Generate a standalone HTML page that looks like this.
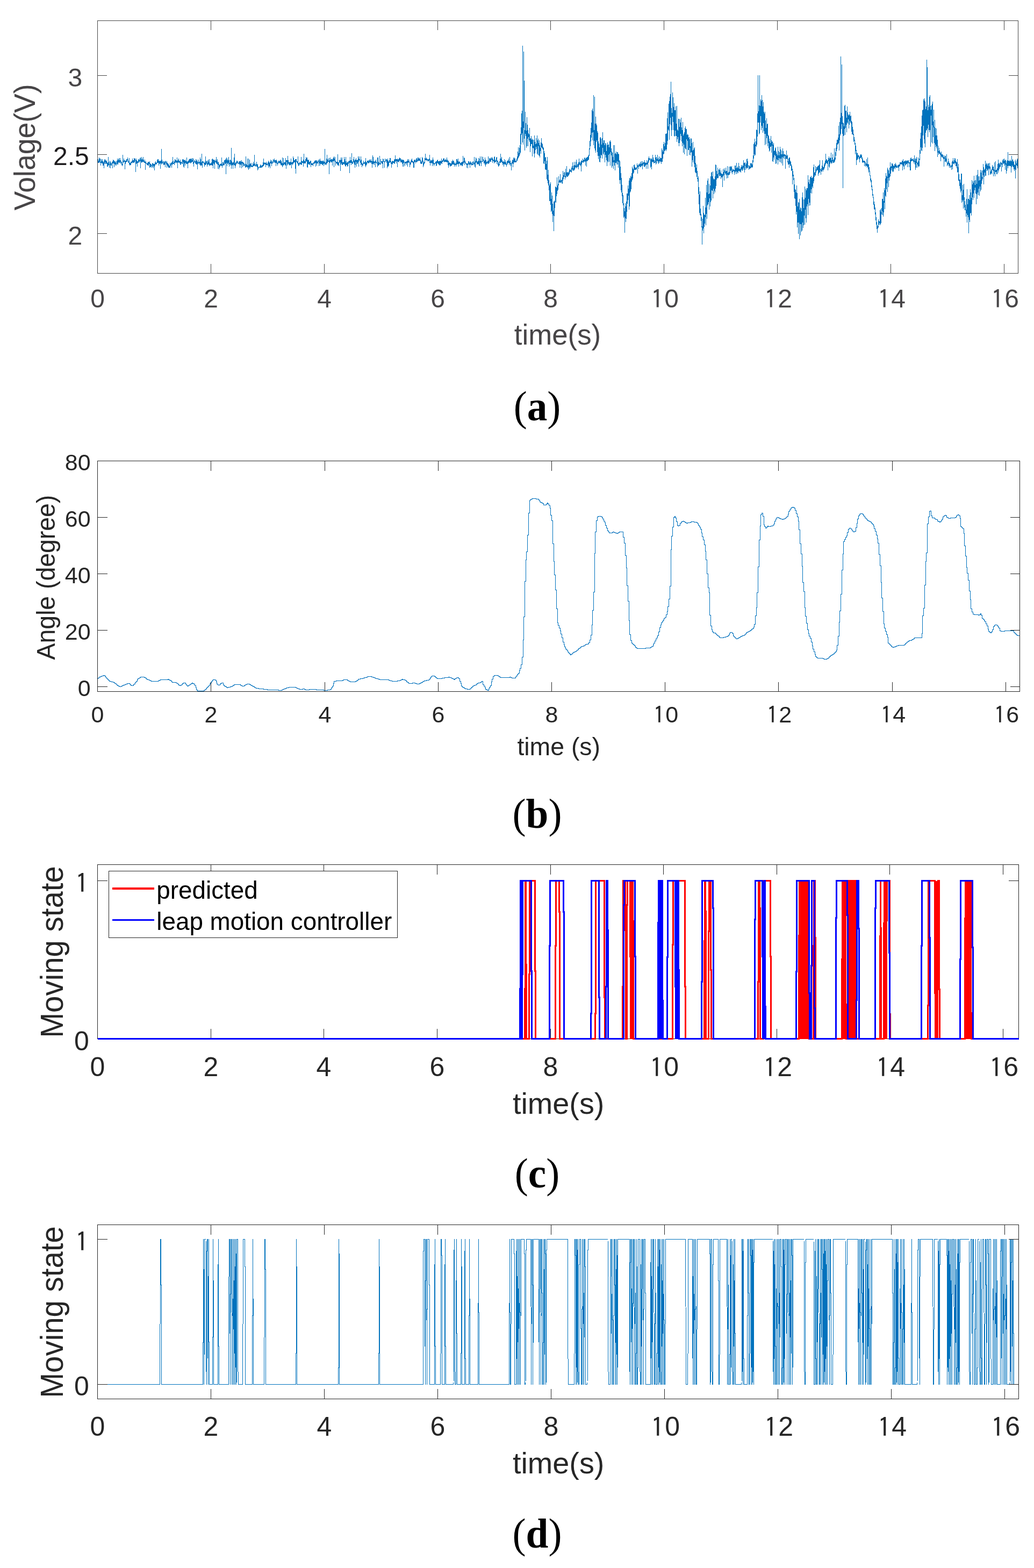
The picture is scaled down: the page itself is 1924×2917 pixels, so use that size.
<!DOCTYPE html>
<html><head><meta charset="utf-8"><title>Figure</title>
<style>html,body{margin:0;padding:0;background:#fff;} svg{display:block;}</style></head>
<body><svg width="1924" height="2917" viewBox="0 0 1924 2917">
<rect width="1924" height="2917" fill="#fff"/>
<path d="M182.5 303V296V301H183.5V303V299V302H184.5V301V293V300H185.5V299V295V299H186.5V302V295V302H187.5V301V308V302H188.5V302V296V300H189.5V299V304V301H190.5V304V296V300H191.5V305V308V307H192.5V308V302V306H193.5V300V313V304H194.5V299V297V299H195.5V302V296V301H196.5V298V305V304H197.5V304V299V303H198.5V302V299V302H199.5V302V310V303H200.5V304V310V306H201.5V307V292V305H202.5V308V301V305H203.5V305V312V305H204.5V306V299V304H205.5V301V313V305H206.5V304V308V305H207.5V303V308V303H208.5V303V302V302H209.5V300V313V301H210.5V304V297V300H211.5V298V304V300H212.5V299V311V300H213.5V304V305V304H214.5V302V308V303H215.5V306V300V303H216.5V303V308V303H217.5V303V299V303H218.5V306V295V301H219.5V298V306V301H220.5V302V296V301H221.5V303V294V299H222.5V298V303V300H223.5V300V294V298H224.5V299V304V302H225.5V304V300V302H226.5V305V307V305H227.5V305V309V306H228.5V302V288V302H229.5V301V299V300H230.5V301V295V300H231.5V301V298V299H232.5V301V315V303H233.5V305V299V301H234.5V301V299V300H235.5V298V296V297H236.5V296V301V297H237.5V297V293V297H238.5V298V302V300H239.5V302V303V302H240.5V305V294V305H241.5V303V308V305H242.5V307V303V306H243.5V302V301V302H244.5V303V301V302H245.5V304V299V301H246.5V299V295V299H247.5V298V302V302H248.5V302V298V299H249.5V302V294V298H250.5V295V302V298H251.5V299V295V298H252.5V301V320V304H253.5V304V295V303H254.5V300V298V300H255.5V300V310V300H256.5V300V303V301H257.5V303V296V300H258.5V298V297V297H259.5V297V302V298H260.5V297V294V296H261.5V293V313V297H262.5V298V301V300H263.5V303V292V300H264.5V302V295V299H265.5V300V297V300H266.5V298V292V297H267.5V300V302V300H268.5V301V303V302H269.5V302V297V301H270.5V302V316V303H271.5V303V300V303H272.5V303V305V304H273.5V304V307V305H274.5V307V303V304H275.5V301V308V304H276.5V301V308V304H277.5V304V302V303H278.5V300V312V304H279.5V309V310V310H280.5V308V305V306H281.5V307V308V307H282.5V309V312V310H283.5V308V304V306H284.5V308V303V306H285.5V305V313V305H286.5V308V309V309H287.5V305V317V307H288.5V305V302V305H289.5V305V300V304H290.5V304V303V304H291.5V306V302V302H292.5V303V298V301H293.5V303V296V298H294.5V296V303V299H295.5V302V308V304H296.5V304V299V303H297.5V301V300V300H298.5V299V314V302H299.5V304V299V302H300.5V306V277V301H301.5V304V297V300H302.5V300V304V303H303.5V303V304V303H304.5V300V307V304H305.5V307V300V305H306.5V305V302V302H307.5V300V311V300H308.5V299V302V302H309.5V302V306V304H310.5V300V312V303H311.5V303V308V304H312.5V304V310V305H313.5V307V312V307H314.5V308V312V309H315.5V309V312V310H316.5V312V303V308H317.5V308V305V305H318.5V305V303V305H319.5V302V312V305H320.5V307V300V302H321.5V305V292V304H322.5V305V303V304H323.5V304V299V302H324.5V301V307V302H325.5V301V296V301H326.5V302V297V299H327.5V298V304V301H328.5V302V299V300H329.5V302V293V302H330.5V299V313V300H331.5V302V297V299H332.5V303V295V299H333.5V300V302V301H334.5V300V304V302H335.5V307V297V303H336.5V301V306V302H337.5V302V301V302H338.5V302V305V302H339.5V305V296V301H340.5V299V297V298H341.5V296V310V300H342.5V298V312V300H343.5V298V304V302H344.5V297V308V301H345.5V303V299V301H346.5V300V304V304H347.5V303V293V303H348.5V304V301V304H349.5V300V313V303H350.5V302V299V300H351.5V303V297V300H352.5V302V296V300H353.5V303V295V298H354.5V296V304V301H355.5V302V295V298H356.5V295V303V298H357.5V299V301V300H358.5V300V294V299H359.5V295V305V304H360.5V301V310V301H361.5V303V298V299H362.5V299V301V300H363.5V301V304V302H364.5V305V296V301H365.5V299V306V301H366.5V297V306V302H367.5V300V315V303H368.5V304V302V302H369.5V305V297V301H370.5V301V303V302H371.5V301V306V303H372.5V307V293V303H373.5V309V296V305H374.5V307V302V304H375.5V308V286V303H376.5V300V312V300H377.5V300V303V302H378.5V302V303V302H379.5V300V305V304H380.5V303V310V305H381.5V306V302V306H382.5V307V291V305H383.5V304V299V303H384.5V304V300V303H385.5V303V310V304H386.5V307V299V304H387.5V306V297V302H388.5V301V305V305H389.5V309V296V306H390.5V306V304V306H391.5V308V304V306H392.5V307V304V306H393.5V304V302V302H394.5V308V296V305H395.5V308V295V304H396.5V297V313V301H397.5V304V297V301H398.5V297V306V301H399.5V298V314V301H400.5V302V300V301H401.5V302V297V300H402.5V305V292V300H403.5V299V304V302H404.5V306V296V302H405.5V305V314V306H406.5V306V301V305H407.5V307V315V307H408.5V308V312V309H409.5V310V305V307H410.5V308V305V307H411.5V307V304V306H412.5V309V293V306H413.5V307V312V307H414.5V308V302V305H415.5V307V301V305H416.5V304V308V306H417.5V305V298V303H418.5V299V298V299H419.5V297V305V301H420.5V295V324V302H421.5V302V293V301H422.5V298V309V300H423.5V305V295V300H424.5V298V303V302H425.5V306V292V301H426.5V298V310V303H427.5V303V305V304H428.5V308V297V305H429.5V304V298V303H430.5V314V275V307H431.5V305V300V304H432.5V302V307V303H433.5V304V314V304H434.5V306V301V305H435.5V308V293V305H436.5V307V286V306H437.5V304V313V305H438.5V302V309V305H439.5V304V302V303H440.5V302V299V302H441.5V303V299V301H442.5V302V305V304H443.5V304V305V304H444.5V305V301V304H445.5V305V300V305H446.5V300V312V305H447.5V304V299V303H448.5V301V307V303H449.5V298V313V301H450.5V302V304V302H451.5V301V311V305H452.5V305V302V305H453.5V303V309V307H454.5V306V309V306H455.5V307V304V306H456.5V306V312V309H457.5V310V291V310H458.5V308V305V307H459.5V308V310V309H460.5V313V295V309H461.5V308V311V310H462.5V316V295V310H463.5V314V306V309H464.5V311V297V309H465.5V313V304V309H466.5V309V305V308H467.5V310V303V308H468.5V309V311V310H469.5V309V308V308H470.5V310V304V308H471.5V307V301V305H472.5V305V309V305H473.5V308V288V306H474.5V304V309V308H475.5V307V310V307H476.5V307V305V306H477.5V310V301V306H478.5V306V311V307H479.5V305V317V310H480.5V310V315V311H481.5V311V312V311H482.5V311V312V311H483.5V312V309V311H484.5V310V306V309H485.5V307V312V311H486.5V310V309V310H487.5V310V307V307H488.5V307V311V308H489.5V306V302V303H490.5V309V295V306H491.5V304V303V304H492.5V304V302V303H493.5V303V305V305H494.5V303V311V304H495.5V307V301V305H496.5V306V304V306H497.5V305V308V305H498.5V303V302V303H499.5V299V312V303H500.5V301V309V304H501.5V303V310V305H502.5V301V313V303H503.5V303V297V301H504.5V300V304V302H505.5V298V309V303H506.5V302V305V302H507.5V303V300V301H508.5V303V296V299H509.5V300V298V299H510.5V302V295V299H511.5V298V302V302H512.5V301V298V300H513.5V298V309V300H514.5V302V297V302H515.5V304V300V304H516.5V303V308V304H517.5V302V301V301H518.5V303V299V302H519.5V302V299V300H520.5V300V304V303H521.5V304V297V300H522.5V298V307V302H523.5V300V308V303H524.5V303V307V304H525.5V311V293V306H526.5V304V309V306H527.5V307V294V305H528.5V307V302V303H529.5V302V305V303H530.5V302V307V303H531.5V308V294V298H532.5V298V314V300H533.5V301V298V300H534.5V298V308V300H535.5V306V290V302H536.5V303V298V303H537.5V302V306V304H538.5V307V301V303H539.5V302V308V304H540.5V307V301V305H541.5V305V295V304H542.5V302V313V304H543.5V304V302V302H544.5V301V307V303H545.5V305V291V300H546.5V303V294V298H547.5V300V302V301H548.5V302V298V299H549.5V296V314V297H550.5V296V323V297H551.5V296V301V300H552.5V300V302V300H553.5V300V304V301H554.5V306V291V303H555.5V304V309V306H556.5V308V304V305H557.5V304V302V303H558.5V305V301V304H559.5V303V306V303H560.5V307V292V305H561.5V304V299V302H562.5V303V300V301H563.5V302V300V302H564.5V297V310V300H565.5V304V286V301H566.5V303V299V303H567.5V303V300V303H568.5V304V296V300H569.5V298V292V297H570.5V300V294V298H571.5V293V311V298H572.5V297V312V300H573.5V298V305V302H574.5V306V297V304H575.5V306V301V302H576.5V301V307V303H577.5V304V299V303H578.5V299V311V304H579.5V304V306V306H580.5V307V303V304H581.5V305V306V306H582.5V304V309V304H583.5V305V302V304H584.5V304V301V303H585.5V303V299V300H586.5V299V303V301H587.5V298V310V300H588.5V298V304V299H589.5V301V308V303H590.5V303V301V303H591.5V302V299V300H592.5V301V297V300H593.5V302V309V303H594.5V304V297V301H595.5V295V308V304H596.5V303V299V302H597.5V304V299V304H598.5V303V300V302H599.5V299V307V302H600.5V300V307V304H601.5V303V298V303H602.5V300V309V301H603.5V302V304V303H604.5V306V277V303H605.5V303V307V304H606.5V303V301V303H607.5V307V295V302H608.5V304V288V300H609.5V303V297V300H610.5V300V295V299H611.5V299V300V300H612.5V294V324V298H613.5V298V303V298H614.5V302V293V297H615.5V299V300V299H616.5V302V296V300H617.5V302V296V298H618.5V297V308V299H619.5V300V295V299H620.5V300V293V298H621.5V291V311V296H622.5V295V299V297H623.5V301V292V299H624.5V299V308V302H625.5V301V304V303H626.5V303V301V303H627.5V305V301V305H628.5V308V287V306H629.5V306V302V305H630.5V302V309V302H631.5V303V298V301H632.5V301V297V300H633.5V298V318V302H634.5V306V293V302H635.5V304V297V300H636.5V307V293V304H637.5V302V307V304H638.5V306V301V304H639.5V305V302V304H640.5V305V292V304H641.5V307V296V305H642.5V309V300V303H643.5V310V292V306H644.5V307V303V305H645.5V307V300V305H646.5V302V310V302H647.5V303V309V304H648.5V304V300V302H649.5V303V299V301H650.5V299V322V302H651.5V303V292V302H652.5V303V298V300H653.5V298V307V302H654.5V301V285V301H655.5V301V305V301H656.5V300V305V300H657.5V300V296V300H658.5V303V292V301H659.5V299V306V302H660.5V297V312V301H661.5V297V307V300H662.5V300V294V299H663.5V298V310V299H664.5V297V305V301H665.5V304V298V300H666.5V300V291V299H667.5V295V310V296H668.5V298V291V296H669.5V297V300V299H670.5V299V303V302H671.5V307V291V305H672.5V306V297V303H673.5V303V311V306H674.5V307V305V307H675.5V306V303V304H676.5V304V299V302H677.5V302V304V302H678.5V304V305V304H679.5V308V300V303H680.5V311V294V307H681.5V308V302V305H682.5V303V301V301H683.5V300V299V299H684.5V300V304V300H685.5V298V303V300H686.5V300V304V301H687.5V302V297V301H688.5V302V297V301H689.5V303V299V301H690.5V301V296V300H691.5V299V305V301H692.5V300V312V301H693.5V305V289V304H694.5V306V292V303H695.5V301V300V300H696.5V301V307V302H697.5V303V301V302H698.5V299V311V302H699.5V303V297V301H700.5V301V303V303H701.5V303V304V303H702.5V311V293V307H703.5V305V293V305H704.5V308V301V306H705.5V305V303V303H706.5V304V290V304H707.5V304V306V304H708.5V306V296V301H709.5V301V300V300H710.5V302V304V302H711.5V300V305V301H712.5V295V313V299H713.5V300V296V300H714.5V300V301V300H715.5V300V312V301H716.5V299V295V299H717.5V299V300V299H718.5V300V296V299H719.5V296V303V301H720.5V298V313V299H721.5V295V310V299H722.5V301V310V301H723.5V301V308V301H724.5V303V298V301H725.5V301V294V300H726.5V302V294V300H727.5V300V305V302H728.5V302V312V302H729.5V300V305V304H730.5V306V299V302H731.5V303V300V302H732.5V301V300V300H733.5V297V305V301H734.5V304V296V300H735.5V301V289V297H736.5V296V300V299H737.5V296V304V299H738.5V300V296V299H739.5V295V311V299H740.5V301V297V300H741.5V300V296V296H742.5V295V302V298H743.5V297V293V295H744.5V294V298V298H745.5V295V302V299H746.5V298V302V299H747.5V302V296V301H748.5V305V297V302H749.5V298V310V301H750.5V303V297V301H751.5V298V310V301H752.5V301V302V301H753.5V301V308V303H754.5V303V301V301H755.5V302V304V302H756.5V300V307V302H757.5V303V299V300H758.5V296V310V300H759.5V299V303V300H760.5V302V296V299H761.5V300V303V302H762.5V305V311V306H763.5V304V302V304H764.5V304V299V301H765.5V300V297V300H766.5V301V295V301H767.5V302V299V301H768.5V300V304V303H769.5V301V312V301H770.5V298V312V300H771.5V302V297V300H772.5V301V297V299H773.5V299V304V300H774.5V299V295V297H775.5V294V302V299H776.5V301V297V298H777.5V299V293V296H778.5V299V293V297H779.5V295V300V297H780.5V299V295V298H781.5V298V293V298H782.5V297V304V300H783.5V299V305V302H784.5V301V305V302H785.5V304V292V300H786.5V300V294V299H787.5V300V311V302H788.5V303V308V304H789.5V305V301V302H790.5V302V294V297H791.5V297V286V297H792.5V298V295V297H793.5V295V293V295H794.5V295V300V296H795.5V297V298V297H796.5V297V300V298H797.5V300V296V296H798.5V295V299V298H799.5V303V288V301H800.5V300V308V302H801.5V301V297V300H802.5V298V304V300H803.5V299V302V302H804.5V297V309V301H805.5V304V293V300H806.5V297V306V304H807.5V303V309V305H808.5V305V304V304H809.5V305V303V303H810.5V304V301V303H811.5V300V309V301H812.5V300V308V301H813.5V304V298V302H814.5V303V297V300H815.5V301V306V304H816.5V304V300V302H817.5V300V307V303H818.5V299V308V303H819.5V307V299V303H820.5V304V300V302H821.5V304V295V299H822.5V299V305V300H823.5V301V298V300H824.5V300V296V296H825.5V294V299V296H826.5V295V302V299H827.5V298V301V299H828.5V301V297V299H829.5V301V296V298H830.5V298V302V299H831.5V301V293V298H832.5V297V302V299H833.5V299V307V302H834.5V299V312V303H835.5V304V308V305H836.5V306V302V305H837.5V303V310V304H838.5V304V309V305H839.5V304V309V304H840.5V308V300V305H841.5V305V300V302H842.5V306V297V304H843.5V306V299V304H844.5V306V300V305H845.5V304V310V306H846.5V306V302V305H847.5V306V307V306H848.5V303V310V306H849.5V307V296V303H850.5V305V296V303H851.5V306V299V303H852.5V304V295V304H853.5V301V310V303H854.5V305V300V302H855.5V303V301V303H856.5V303V308V303H857.5V303V307V304H858.5V302V307V305H859.5V309V301V306H860.5V309V301V305H861.5V305V290V301H862.5V300V304V301H863.5V300V293V298H864.5V294V307V302H865.5V302V299V302H866.5V303V305V304H867.5V304V306V304H868.5V304V312V305H869.5V304V307V304H870.5V304V313V304H871.5V304V300V303H872.5V300V307V303H873.5V303V306V305H874.5V301V312V303H875.5V306V300V305H876.5V306V303V305H877.5V308V302V305H878.5V305V307V305H879.5V307V301V304H880.5V307V300V303H881.5V303V304V303H882.5V306V292V305H883.5V302V310V306H884.5V312V299V302H885.5V302V293V300H886.5V302V295V300H887.5V300V306V303H888.5V305V301V303H889.5V306V299V301H890.5V305V294V300H891.5V301V308V301H892.5V295V309V299H893.5V301V291V301H894.5V299V304V300H895.5V300V309V300H896.5V301V291V300H897.5V300V301V300H898.5V297V292V297H899.5V296V299V298H900.5V299V304V299H901.5V299V304V302H902.5V307V293V305H903.5V310V297V302H904.5V305V298V302H905.5V301V306V302H906.5V302V301V301H907.5V299V305V302H908.5V304V291V301H909.5V299V305V302H910.5V301V294V299H911.5V299V295V297H912.5V295V301V297H913.5V301V293V296H914.5V297V295V296H915.5V298V292V296H916.5V294V303V298H917.5V300V296V299H918.5V300V298V298H919.5V304V292V301H920.5V302V291V301H921.5V300V297V300H922.5V301V299V299H923.5V300V293V298H924.5V292V305V300H925.5V300V299V299H926.5V300V307V302H927.5V303V310V307H928.5V309V305V306H929.5V306V300V302H930.5V300V295V299H931.5V303V286V298H932.5V301V295V297H933.5V302V292V298H934.5V301V303V302H935.5V301V307V304H936.5V303V300V302H937.5V301V310V302H938.5V306V296V301H939.5V301V305V301H940.5V298V307V302H941.5V304V306V305H942.5V305V310V306H943.5V307V300V304H944.5V303V299V301H945.5V303V298V301H946.5V303V295V302H947.5V300V307V302H948.5V304V292V303H949.5V306V299V303H950.5V304V309V305H951.5V304V317V304H952.5V305V301V303H953.5V302V297V301H954.5V298V311V303H955.5V305V293V301H956.5V299V295V298H957.5V302V293V300H958.5V302V295V299H959.5V301V302V301H960.5V300V299V299H961.5V299V295V298H962.5V296V291V295H963.5V294V282V293H964.5V293V274V290H965.5V292V285V288H966.5V290V275V284H967.5V287V270V275H968.5V284V249V268H969.5V265V237V250H970.5V235V211V233H971.5V248V206V228H972.5V265V85V230H973.5V226V269V232H974.5V238V96V230H975.5V258V150V246H976.5V242V280V244H977.5V249V208V237H978.5V229V253V244H979.5V243V275V246H980.5V272V218V243H981.5V232V258V251H982.5V242V272V251H983.5V248V255V250H984.5V252V261V256H985.5V264V238V259H986.5V258V283V267H987.5V272V257V267H988.5V268V253V266H989.5V268V260V264H990.5V258V291V274H991.5V272V260V271H992.5V275V276V275H993.5V286V260V269H994.5V252V293V264H995.5V268V285V269H996.5V268V279V272H997.5V270V257V269H998.5V267V277V271H999.5V286V252V275H1000.5V288V261V271H1001.5V269V258V269H1002.5V266V289V276H1003.5V290V261V274H1004.5V270V293V280H1005.5V281V275V280H1006.5V286V265V273H1007.5V274V257V268H1008.5V266V275V271H1009.5V268V277V273H1010.5V273V279V278H1011.5V275V304V281H1012.5V282V305V285H1013.5V289V300V293H1014.5V296V315V296H1015.5V292V316V305H1016.5V313V316V314H1017.5V299V333V315H1018.5V336V292V325H1019.5V325V341V335H1020.5V345V316V340H1021.5V335V354V347H1022.5V345V374V364H1023.5V374V342V361H1024.5V381V339V370H1025.5V374V394V376H1026.5V392V358V378H1027.5V364V398V385H1028.5V379V413V392H1029.5V393V401V397H1030.5V375V430V392H1031.5V402V373V386H1032.5V385V375V375H1033.5V375V347V363H1034.5V377V348V356H1035.5V349V365V353H1036.5V361V330V350H1037.5V355V345V347H1038.5V342V353V344H1039.5V343V328V339H1040.5V338V336V338H1041.5V336V334V336H1042.5V340V324V336H1043.5V337V340V337H1044.5V338V334V335H1045.5V338V341V338H1046.5V342V330V335H1047.5V331V318V328H1048.5V326V333V327H1049.5V329V321V327H1050.5V329V320V328H1051.5V329V334V329H1052.5V327V314V326H1053.5V330V321V325H1054.5V327V309V324H1055.5V320V329V324H1056.5V321V329V326H1057.5V326V321V321H1058.5V319V326V321H1059.5V324V314V319H1060.5V320V316V316H1061.5V315V318V318H1062.5V317V320V318H1063.5V321V312V316H1064.5V317V309V314H1065.5V315V302V313H1066.5V313V318V313H1067.5V317V308V313H1068.5V317V301V313H1069.5V315V307V310H1070.5V311V308V308H1071.5V313V301V306H1072.5V310V297V310H1073.5V308V313V309H1074.5V310V305V308H1075.5V311V305V306H1076.5V302V315V307H1077.5V306V295V305H1078.5V305V301V305H1079.5V304V307V305H1080.5V309V301V306H1081.5V299V319V302H1082.5V306V298V301H1083.5V301V300V301H1084.5V300V295V297H1085.5V297V303V300H1086.5V301V298V299H1087.5V300V293V298H1088.5V301V294V297H1089.5V296V308V297H1090.5V300V293V296H1091.5V294V310V297H1092.5V300V292V297H1093.5V299V292V296H1094.5V298V290V293H1095.5V297V288V289H1096.5V277V276V276H1097.5V278V262V269H1098.5V272V251V262H1099.5V262V238V249H1100.5V256V228V246H1101.5V246V205V240H1102.5V261V202V236H1103.5V246V207V243H1104.5V270V177V260H1105.5V262V242V259H1106.5V276V180V260H1107.5V280V230V257H1108.5V284V217V254H1109.5V264V230V254H1110.5V261V233V252H1111.5V244V283V259H1112.5V247V290V263H1113.5V268V296V280H1114.5V290V267V279H1115.5V274V301V287H1116.5V302V256V292H1117.5V294V255V287H1118.5V280V258V276H1119.5V269V289V276H1120.5V295V257V272H1121.5V275V246V266H1122.5V269V286V274H1123.5V261V288V273H1124.5V283V261V278H1125.5V270V302V284H1126.5V288V266V276H1127.5V267V293V291H1128.5V298V281V287H1129.5V270V309V286H1130.5V300V265V281H1131.5V269V302V284H1132.5V288V269V282H1133.5V274V301V283H1134.5V286V263V277H1135.5V261V308V282H1136.5V281V264V281H1137.5V276V289V286H1138.5V282V312V287H1139.5V284V309V293H1140.5V292V302V297H1141.5V314V270V299H1142.5V298V301V301H1143.5V308V270V302H1144.5V317V286V300H1145.5V303V285V299H1146.5V303V282V300H1147.5V306V287V296H1148.5V300V283V294H1149.5V283V306V292H1150.5V286V312V297H1151.5V301V287V298H1152.5V298V335V304H1153.5V300V342V315H1154.5V310V335V322H1155.5V325V354V337H1156.5V331V358V344H1157.5V352V365V359H1158.5V361V378V363H1159.5V366V382V378H1160.5V379V405V394H1161.5V387V403V400H1162.5V393V433V402H1163.5V406V378V401H1164.5V413V384V392H1165.5V407V375V387H1166.5V394V360V378H1167.5V376V360V371H1168.5V366V345V361H1169.5V364V351V351H1170.5V336V390V348H1171.5V331V384V345H1172.5V358V332V337H1173.5V327V356V342H1174.5V352V329V335H1175.5V338V322V334H1176.5V330V310V321H1177.5V313V332V322H1178.5V320V315V318H1179.5V321V307V315H1180.5V311V306V311H1181.5V310V316V312H1182.5V313V316V315H1183.5V315V312V314H1184.5V313V311V311H1185.5V311V304V307H1186.5V307V323V308H1187.5V309V310V309H1188.5V305V314V309H1189.5V310V306V308H1190.5V306V304V306H1191.5V311V301V306H1192.5V305V311V306H1193.5V309V300V306H1194.5V308V304V304H1195.5V300V315V303H1196.5V303V308V304H1197.5V304V301V302H1198.5V303V310V307H1199.5V311V298V308H1200.5V307V302V306H1201.5V306V303V304H1202.5V303V314V304H1203.5V306V298V303H1204.5V302V306V304H1205.5V299V314V299H1206.5V303V294V299H1207.5V299V291V296H1208.5V296V295V296H1209.5V297V294V297H1210.5V298V312V299H1211.5V295V310V297H1212.5V295V315V298H1213.5V297V301V299H1214.5V302V288V298H1215.5V301V293V297H1216.5V299V304V300H1217.5V302V298V302H1218.5V303V301V301H1219.5V301V288V300H1220.5V306V293V301H1221.5V304V292V298H1222.5V298V296V298H1223.5V300V288V294H1224.5V294V303V298H1225.5V297V305V299H1226.5V299V291V296H1227.5V296V303V297H1228.5V300V293V297H1229.5V294V301V297H1230.5V294V305V297H1231.5V301V276V297H1232.5V301V279V294H1233.5V288V282V286H1234.5V283V268V283H1235.5V286V264V280H1236.5V276V272V274H1237.5V280V266V271H1238.5V278V249V265H1239.5V281V249V264H1240.5V278V248V268H1241.5V257V220V252H1242.5V262V209V235H1243.5V235V241V237H1244.5V243V193V229H1245.5V260V188V222H1246.5V231V180V217H1247.5V219V175V215H1248.5V233V152V229H1249.5V253V201V221H1250.5V210V242V216H1251.5V216V172V214H1252.5V227V181V218H1253.5V199V242V222H1254.5V192V253V222H1255.5V205V254V218H1256.5V205V243V224H1257.5V198V253V234H1258.5V230V253V232H1259.5V264V197V242H1260.5V241V259V243H1261.5V243V255V249H1262.5V266V221V246H1263.5V221V272V243H1264.5V236V266V246H1265.5V261V222V244H1266.5V249V228V247H1267.5V253V219V248H1268.5V237V263V249H1269.5V242V272V250H1270.5V266V227V252H1271.5V254V284V264H1272.5V269V249V258H1273.5V246V287V265H1274.5V275V238V257H1275.5V277V235V253H1276.5V240V278V253H1277.5V259V240V252H1278.5V251V290V256H1279.5V262V249V260H1280.5V251V279V265H1281.5V256V279V268H1282.5V255V288V274H1283.5V273V259V272H1284.5V274V289V279H1285.5V284V257V272H1286.5V283V258V278H1287.5V266V310V280H1288.5V285V298V286H1289.5V302V264V279H1290.5V279V290V285H1291.5V276V305V291H1292.5V274V311V298H1293.5V290V320V303H1294.5V311V322V312H1295.5V317V322V319H1296.5V329V306V328H1297.5V333V318V331H1298.5V334V338V337H1299.5V328V361V348H1300.5V354V380V362H1301.5V362V396V376H1302.5V356V400V388H1303.5V392V400V400H1304.5V398V411V410H1305.5V404V423V421H1306.5V424V455V426H1307.5V429V407V424H1308.5V425V383V420H1309.5V434V396V421H1310.5V420V399V407H1311.5V400V416V403H1312.5V396V368V395H1313.5V386V419V392H1314.5V398V344V388H1315.5V407V358V379H1316.5V382V336V370H1317.5V380V332V370H1318.5V376V361V368H1319.5V390V342V365H1320.5V369V360V367H1321.5V384V345V360H1322.5V376V328V357H1323.5V373V321V349H1324.5V354V320V346H1325.5V355V328V342H1326.5V319V369V348H1327.5V351V332V340H1328.5V334V361V345H1329.5V355V333V339H1330.5V328V358V339H1331.5V351V306V338H1332.5V346V307V333H1333.5V334V318V330H1334.5V330V324V328H1335.5V332V312V323H1336.5V323V331V323H1337.5V324V315V321H1338.5V316V328V322H1339.5V327V313V321H1340.5V321V327V323H1341.5V317V333V325H1342.5V323V329V329H1343.5V327V323V327H1344.5V324V348V324H1345.5V328V315V325H1346.5V326V320V323H1347.5V313V336V320H1348.5V321V316V319H1349.5V321V325V321H1350.5V323V312V319H1351.5V318V326V322H1352.5V318V332V324H1353.5V324V309V324H1354.5V322V331V325H1355.5V323V320V321H1356.5V325V310V323H1357.5V325V320V321H1358.5V318V310V317H1359.5V316V309V314H1360.5V317V311V315H1361.5V321V309V317H1362.5V317V324V319H1363.5V320V314V318H1364.5V317V315V316H1365.5V316V317V317H1366.5V316V325V319H1367.5V321V308V318H1368.5V319V308V318H1369.5V313V324V318H1370.5V318V303V318H1371.5V323V312V318H1372.5V320V310V315H1373.5V313V322V317H1374.5V317V303V314H1375.5V318V309V314H1376.5V315V320V316H1377.5V314V319V314H1378.5V311V321V313H1379.5V315V307V312H1380.5V310V317V312H1381.5V307V318V313H1382.5V315V309V311H1383.5V308V298V307H1384.5V303V316V308H1385.5V303V321V306H1386.5V308V302V307H1387.5V308V316V311H1388.5V310V304V309H1389.5V314V296V309H1390.5V312V295V310H1391.5V313V300V308H1392.5V308V309V308H1393.5V309V316V311H1394.5V314V308V310H1395.5V312V314V312H1396.5V310V304V308H1397.5V312V303V308H1398.5V311V304V306H1399.5V306V312V310H1400.5V305V298V301H1401.5V296V289V294H1402.5V286V268V284H1403.5V287V265V280H1404.5V290V258V281H1405.5V288V269V271H1406.5V272V263V267H1407.5V273V241V256H1408.5V269V242V244H1409.5V254V211V227H1410.5V227V140V223H1411.5V228V207V214H1412.5V196V250V214H1413.5V248V140V227H1414.5V227V197V213H1415.5V216V185V205H1416.5V188V242V208H1417.5V234V177V211H1418.5V186V238V218H1419.5V198V247V228H1420.5V226V190V219H1421.5V208V244V231H1422.5V249V211V228H1423.5V208V270V237H1424.5V249V224V240H1425.5V238V268V243H1426.5V257V220V239H1427.5V231V253V242H1428.5V230V272V251H1429.5V259V266V263H1430.5V253V276V265H1431.5V263V282V271H1432.5V280V258V272H1433.5V269V266V268H1434.5V273V253V269H1435.5V261V284V269H1436.5V271V264V269H1437.5V263V300V269H1438.5V275V301V276H1439.5V266V293V281H1440.5V284V297V285H1441.5V288V280V285H1442.5V290V276V283H1443.5V274V305V284H1444.5V282V304V287H1445.5V286V296V289H1446.5V291V298V292H1447.5V306V273V294H1448.5V298V281V292H1449.5V294V289V290H1450.5V283V301V293H1451.5V295V273V290H1452.5V302V278V294H1453.5V294V287V289H1454.5V280V304V288H1455.5V287V292V289H1456.5V276V308V286H1457.5V281V294V288H1458.5V287V291V288H1459.5V287V296V289H1460.5V290V287V288H1461.5V291V314V295H1462.5V295V289V294H1463.5V293V280V293H1464.5V295V290V295H1465.5V301V288V301H1466.5V300V306V304H1467.5V306V295V302H1468.5V293V312V298H1469.5V293V305V301H1470.5V299V308V301H1471.5V301V309V308H1472.5V306V318V309H1473.5V309V317V314H1474.5V316V343V318H1475.5V320V328V327H1476.5V325V335V332H1477.5V331V357V343H1478.5V351V369V355H1479.5V352V370V358H1480.5V353V383V368H1481.5V358V399V373H1482.5V394V345V375H1483.5V359V423V384H1484.5V389V414V390H1485.5V376V435V401H1486.5V414V377V410H1487.5V445V370V414H1488.5V417V390V410H1489.5V386V438V406H1490.5V416V387V416H1491.5V431V393V404H1492.5V429V367V399H1493.5V414V358V396H1494.5V371V424V387H1495.5V389V419V397H1496.5V401V371V398H1497.5V418V347V389H1498.5V383V368V377H1499.5V351V406V376H1500.5V354V414V366H1501.5V350V384V369H1502.5V380V350V366H1503.5V400V326V364H1504.5V370V339V357H1505.5V334V383V357H1506.5V342V377V353H1507.5V330V382V358H1508.5V353V329V344H1509.5V352V327V343H1510.5V331V360V346H1511.5V345V331V344H1512.5V350V329V340H1513.5V337V311V331H1514.5V337V306V328H1515.5V328V321V325H1516.5V325V320V321H1517.5V327V309V320H1518.5V318V315V317H1519.5V316V311V311H1520.5V314V316V315H1521.5V317V309V313H1522.5V308V327V316H1523.5V323V308V316H1524.5V321V306V314H1525.5V321V298V315H1526.5V316V314V316H1527.5V316V325V318H1528.5V317V313V315H1529.5V319V308V314H1530.5V316V298V311H1531.5V310V319V311H1532.5V311V316V313H1533.5V315V306V310H1534.5V312V303V305H1535.5V308V299V304H1536.5V305V286V299H1537.5V297V303V300H1538.5V304V296V301H1539.5V299V305V299H1540.5V298V317V299H1541.5V298V294V296H1542.5V291V310V297H1543.5V295V312V297H1544.5V293V305V300H1545.5V302V294V297H1546.5V303V284V299H1547.5V298V305V299H1548.5V303V293V298H1549.5V299V287V299H1550.5V298V303V298H1551.5V296V303V298H1552.5V302V276V299H1553.5V298V293V296H1554.5V295V283V289H1555.5V289V275V279H1556.5V281V266V276H1557.5V270V260V268H1558.5V269V260V264H1559.5V268V256V265H1560.5V265V234V262H1561.5V250V280V260H1562.5V256V227V251H1563.5V252V219V248H1564.5V246V105V239H1565.5V233V210V230H1566.5V226V120V224H1567.5V216V249V228H1568.5V229V350V229H1569.5V231V253V235H1570.5V237V252V237H1571.5V240V197V239H1572.5V251V195V237H1573.5V238V206V231H1574.5V231V206V227H1575.5V219V246V226H1576.5V228V198V219H1577.5V209V230V221H1578.5V222V213V216H1579.5V215V239V220H1580.5V213V232V218H1581.5V225V208V216H1582.5V216V228V219H1583.5V215V230V226H1584.5V225V245V235H1585.5V227V250V244H1586.5V250V236V243H1587.5V241V251V249H1588.5V254V264V255H1589.5V255V262V260H1590.5V264V269V267H1591.5V266V287V271H1592.5V272V281V279H1593.5V284V307V284H1594.5V285V298V287H1595.5V285V297V289H1596.5V289V295V291H1597.5V291V288V290H1598.5V291V296V292H1599.5V292V302V293H1600.5V292V289V292H1601.5V294V287V289H1602.5V287V293V291H1603.5V289V296V293H1604.5V297V302V297H1605.5V296V303V299H1606.5V300V301V301H1607.5V300V299V299H1608.5V301V309V301H1609.5V300V303V302H1610.5V306V310V307H1611.5V307V304V306H1612.5V309V296V306H1613.5V305V312V309H1614.5V309V293V308H1615.5V305V315V306H1616.5V309V321V311H1617.5V318V319V318H1618.5V322V327V326H1619.5V329V336V332H1620.5V334V339V335H1621.5V343V348V345H1622.5V348V354V352H1623.5V358V364V361H1624.5V364V368V367H1625.5V374V381V375H1626.5V382V389V382H1627.5V380V389V389H1628.5V386V399V395H1629.5V402V410V404H1630.5V411V418V413H1631.5V422V426V422H1632.5V419V433V424H1633.5V423V421V422H1634.5V420V408V415H1635.5V418V411V414H1636.5V413V412V412H1637.5V419V391V411H1638.5V417V389V403H1639.5V394V415V398H1640.5V398V387V392H1641.5V392V370V382H1642.5V370V400V381H1643.5V403V358V379H1644.5V374V395V376H1645.5V376V350V372H1646.5V389V354V363H1647.5V360V332V352H1648.5V366V322V339H1649.5V327V352V340H1650.5V338V329V329H1651.5V312V357V325H1652.5V331V315V328H1653.5V317V348V325H1654.5V323V336V323H1655.5V330V312V320H1656.5V328V302V322H1657.5V322V310V314H1658.5V317V309V312H1659.5V312V304V311H1660.5V304V320V309H1661.5V306V318V311H1662.5V308V320V311H1663.5V309V314V311H1664.5V311V305V310H1665.5V306V315V306H1666.5V303V311V307H1667.5V306V312V308H1668.5V309V312V310H1669.5V310V312V310H1670.5V311V307V309H1671.5V307V312V307H1672.5V306V318V309H1673.5V310V306V308H1674.5V306V302V305H1675.5V304V302V304H1676.5V304V302V304H1677.5V306V302V305H1678.5V306V299V303H1679.5V299V317V303H1680.5V308V296V307H1681.5V310V301V306H1682.5V300V315V303H1683.5V303V299V303H1684.5V300V308V304H1685.5V307V298V304H1686.5V303V299V302H1687.5V300V305V303H1688.5V298V311V302H1689.5V300V299V299H1690.5V298V304V302H1691.5V302V311V303H1692.5V304V302V302H1693.5V297V317V302H1694.5V294V317V299H1695.5V298V293V298H1696.5V300V296V298H1697.5V299V296V298H1698.5V299V295V298H1699.5V298V301V300H1700.5V304V295V300H1701.5V301V289V300H1702.5V299V306V302H1703.5V295V316V298H1704.5V295V312V300H1705.5V303V292V301H1706.5V302V312V303H1707.5V303V306V303H1708.5V309V293V304H1709.5V300V311V303H1710.5V309V295V297H1711.5V293V279V285H1712.5V286V258V270H1713.5V274V247V249H1714.5V235V280V252H1715.5V281V215V247H1716.5V275V205V233H1717.5V252V204V229H1718.5V234V184V225H1719.5V259V187V246H1720.5V267V183V241H1721.5V274V189V227H1722.5V247V203V240H1723.5V243V198V234H1724.5V242V111V238H1725.5V235V125V220H1726.5V205V255V223H1727.5V232V195V216H1728.5V199V242V209H1729.5V180V246V205H1730.5V177V242V200H1731.5V197V273V204H1732.5V211V215V213H1733.5V196V265V216H1734.5V233V193V224H1735.5V189V267V229H1736.5V226V255V232H1737.5V237V204V236H1738.5V246V266V249H1739.5V223V281V255H1740.5V269V238V254H1741.5V252V273V263H1742.5V276V239V259H1743.5V252V272V260H1744.5V260V292V271H1745.5V278V284V281H1746.5V282V288V285H1747.5V285V275V282H1748.5V280V285V285H1749.5V287V283V287H1750.5V285V300V288H1751.5V291V282V288H1752.5V287V293V291H1753.5V289V287V289H1754.5V288V294V292H1755.5V295V296V295H1756.5V289V310V294H1757.5V295V293V293H1758.5V290V301V296H1759.5V301V290V298H1760.5V300V295V299H1761.5V302V287V301H1762.5V302V309V303H1763.5V303V307V304H1764.5V303V295V300H1765.5V304V309V304H1766.5V303V312V304H1767.5V306V308V307H1768.5V307V312V309H1769.5V309V311V310H1770.5V307V316V309H1771.5V310V301V305H1772.5V299V315V302H1773.5V304V294V301H1774.5V301V305V302H1775.5V306V298V302H1776.5V303V294V302H1777.5V304V295V302H1778.5V299V309V302H1779.5V301V309V302H1780.5V306V313V310H1781.5V321V296V313H1782.5V311V320V317H1783.5V305V336V325H1784.5V324V337V335H1785.5V334V346V334H1786.5V339V351V340H1787.5V346V358V347H1788.5V354V323V354H1789.5V377V323V364H1790.5V363V372V366H1791.5V375V344V363H1792.5V353V388V369H1793.5V372V342V367H1794.5V377V386V382H1795.5V374V391V381H1796.5V387V390V390H1797.5V393V403V394H1798.5V397V370V391H1799.5V414V352V395H1800.5V400V380V397H1801.5V404V370V389H1802.5V370V434V390H1803.5V409V363V391H1804.5V372V413V384H1805.5V397V352V380H1806.5V396V358V377H1807.5V368V401V373H1808.5V380V335V363H1809.5V367V343V357H1810.5V372V337V352H1811.5V360V340V348H1812.5V368V327V346H1813.5V354V336V348H1814.5V349V344V344H1815.5V335V360V348H1816.5V326V380V350H1817.5V342V361V350H1818.5V370V325V350H1819.5V358V316V345H1820.5V328V363V343H1821.5V336V351V346H1822.5V364V328V346H1823.5V343V335V341H1824.5V356V316V340H1825.5V353V321V334H1826.5V342V317V329H1827.5V331V336V332H1828.5V325V317V325H1829.5V322V305V318H1830.5V311V343V320H1831.5V316V329V320H1832.5V319V314V314H1833.5V327V299V309H1834.5V306V327V308H1835.5V303V314V309H1836.5V305V318V308H1837.5V312V317V314H1838.5V311V304V310H1839.5V304V326V312H1840.5V313V309V311H1841.5V315V303V310H1842.5V315V325V319H1843.5V320V324V321H1844.5V319V316V317H1845.5V314V324V315H1846.5V315V307V314H1847.5V317V310V314H1848.5V310V328V317H1849.5V317V315V316H1850.5V323V302V323H1851.5V328V317V319H1852.5V319V300V318H1853.5V319V316V319H1854.5V316V324V319H1855.5V324V313V316H1856.5V316V305V314H1857.5V321V297V316H1858.5V316V304V313H1859.5V312V303V310H1860.5V311V306V309H1861.5V308V301V304H1862.5V305V303V305H1863.5V302V319V304H1864.5V304V306V305H1865.5V311V297V303H1866.5V302V299V301H1867.5V305V296V303H1868.5V304V295V302H1869.5V299V308V301H1870.5V298V316V304H1871.5V306V297V304H1872.5V304V323V308H1873.5V300V318V308H1874.5V306V298V306H1875.5V313V283V308H1876.5V308V299V307H1877.5V308V299V307H1878.5V309V300V308H1879.5V309V297V305H1880.5V309V299V303H1881.5V300V321V306H1882.5V311V290V307H1883.5V305V298V303H1884.5V310V296V303H1885.5V301V311V306H1886.5V299V315V307H1887.5V306V318V307H1888.5V309V315V309H1889.5V297V332V303H1890.5V300V316V304H1891.5V305V307V306H1892.5V309V297V306H1893.5V313V295V307" fill="none" stroke="#0072BD" stroke-width="1" stroke-linejoin="miter" shape-rendering="crispEdges"/>
<path d="M181.5 38.5H1894.5V508.5H181.5ZM181.5 508.5V491M181.5 38.5V56M392.5 508.5V491M392.5 38.5V56M603.5 508.5V491M603.5 38.5V56M814.5 508.5V491M814.5 38.5V56M1024.5 508.5V491M1024.5 38.5V56M1235.5 508.5V491M1235.5 38.5V56M1446.5 508.5V491M1446.5 38.5V56M1657.5 508.5V491M1657.5 38.5V56M1868.5 508.5V491M1868.5 38.5V56M181.5 140.5H199M1894.5 140.5H1877M181.5 287.5H199M1894.5 287.5H1877M181.5 434.5H199M1894.5 434.5H1877" fill="none" stroke="#474747" stroke-width="1" shape-rendering="crispEdges"/>
<text x="181.5" y="572" font-family="Liberation Sans, sans-serif" font-weight="normal" font-size="48" fill="#474547" text-anchor="middle">0</text>
<text x="392.5" y="572" font-family="Liberation Sans, sans-serif" font-weight="normal" font-size="48" fill="#474547" text-anchor="middle">2</text>
<text x="603.5" y="572" font-family="Liberation Sans, sans-serif" font-weight="normal" font-size="48" fill="#474547" text-anchor="middle">4</text>
<text x="814.5" y="572" font-family="Liberation Sans, sans-serif" font-weight="normal" font-size="48" fill="#474547" text-anchor="middle">6</text>
<text x="1024.5" y="572" font-family="Liberation Sans, sans-serif" font-weight="normal" font-size="48" fill="#474547" text-anchor="middle">8</text>
<text x="1235.5" y="572" font-family="Liberation Sans, sans-serif" font-weight="normal" font-size="48" fill="#474547" text-anchor="middle"><tspan font-family="IPAGothic, sans-serif" dx="1.44" dy="2.16">1</tspan><tspan dx="1.25" dy="-2.16">0</tspan></text>
<text x="1446.5" y="572" font-family="Liberation Sans, sans-serif" font-weight="normal" font-size="48" fill="#474547" text-anchor="middle"><tspan font-family="IPAGothic, sans-serif" dx="1.44" dy="2.16">1</tspan><tspan dx="1.25" dy="-2.16">2</tspan></text>
<text x="1657.5" y="572" font-family="Liberation Sans, sans-serif" font-weight="normal" font-size="48" fill="#474547" text-anchor="middle"><tspan font-family="IPAGothic, sans-serif" dx="1.44" dy="2.16">1</tspan><tspan dx="1.25" dy="-2.16">4</tspan></text>
<text x="1868.5" y="572" font-family="Liberation Sans, sans-serif" font-weight="normal" font-size="48" fill="#474547" text-anchor="middle"><tspan font-family="IPAGothic, sans-serif" dx="1.44" dy="2.16">1</tspan><tspan dx="1.25" dy="-2.16">6</tspan></text>
<text x="153.2" y="160.8" font-family="Liberation Sans, sans-serif" font-weight="normal" font-size="48" fill="#474547" text-anchor="end">3</text>
<text x="153.2" y="454.8" font-family="Liberation Sans, sans-serif" font-weight="normal" font-size="48" fill="#474547" text-anchor="end">2</text>
<text x="165.8" y="307.3" font-family="Liberation Sans, sans-serif" font-weight="normal" font-size="48" fill="#1e1c1e" text-anchor="end">2.5</text>
<text x="1037.5" y="641" font-family="Liberation Sans, sans-serif" font-weight="normal" font-size="52.8" fill="#474547" text-anchor="middle">time(s)</text>
<g transform="translate(65 274) rotate(-90) scale(1 1.035)"><text x="0" y="0" font-family="Liberation Sans, sans-serif" font-weight="normal" font-size="53.5" fill="#474547" text-anchor="middle">Volage(V)</text></g>
<path d="M181.5 1262H182.4V1261H184.1V1259H185.8V1259H187.5V1258H189.3V1257H191V1257H192.7V1256H194.5V1257H196.2V1259H197.9V1261H199.7V1263H201.4V1265H203.1V1267H204.8V1267H206.6V1268H208.3V1268H210V1269H211.8V1269H213.5V1271H215.2V1272H217V1274H218.7V1275H220.4V1276H222.1V1277H223.9V1277H225.6V1276H227.3V1275H229.1V1274H230.8V1274H232.5V1273H234.3V1272H236V1272H237.7V1271H239.4V1271H241.2V1272H242.9V1274H244.6V1275H246.4V1275H248.1V1273H249.8V1272H251.6V1269H253.3V1267H255V1264H256.7V1262H258.5V1261H260.2V1260H261.9V1259H263.7V1259H265.4V1259H267.1V1259H268.9V1260H270.6V1261H272.3V1263H274V1264H275.8V1264H277.5V1265H279.2V1266H281V1267H282.7V1267H284.4V1267H286.2V1267H287.9V1267H289.6V1267H291.3V1267H293.1V1267H294.8V1266H296.5V1265H298.3V1264H300V1264H301.7V1264H303.5V1264H305.2V1264H306.9V1264H308.7V1264H310.4V1264H312.1V1263H313.8V1264H315.6V1265H317.3V1266H319V1268H320.8V1269H322.5V1269H324.2V1269H326V1269H327.7V1270H329.4V1271H331.1V1273H332.9V1274H334.6V1275H336.3V1274H338.1V1273H339.8V1271H341.5V1270H343.3V1270H345V1272H346.7V1274H348.4V1276H350.2V1275H351.9V1274H353.6V1273H355.4V1271H357.1V1270H358.8V1271H360.6V1272H362.3V1275H364V1279H365.7V1283H367.5V1285H369.2V1285.5H370.9V1285H372.7V1285H374.4V1285H376.1V1285H377.9V1285H379.6V1284H381.3V1282H383V1281H384.8V1279H386.5V1277H388.2V1275H390V1272H391.7V1270H393.4V1267H395.2V1265H396.9V1264H398.6V1264H400.3V1265H402.1V1268H403.8V1272H405.5V1274H407.3V1274H409V1272H410.7V1271H412.5V1270H414.2V1270H415.9V1274H417.6V1276H419.4V1277H421.1V1278H422.8V1279H424.6V1278H426.3V1278H428V1277H429.8V1277H431.5V1276H433.2V1275H434.9V1274H436.7V1273H438.4V1273H440.1V1273H441.9V1273H443.6V1273H445.3V1273H447.1V1274H448.8V1275H450.5V1276H452.2V1276H454V1275H455.7V1274H457.4V1273H459.2V1272H460.9V1272H462.6V1272H464.4V1273H466.1V1274H467.8V1275H469.5V1276H471.3V1277H473V1278H474.7V1279H476.5V1280H478.2V1280H479.9V1280H481.7V1281H483.4V1281H485.1V1281H486.8V1281H488.6V1281H490.3V1282H492V1282H493.8V1282H495.5V1282H497.2V1283H499V1283H500.7V1283H502.4V1283H504.1V1283H505.9V1283H507.6V1283H509.3V1283H511.1V1283H512.8V1283H514.5V1283H516.3V1283H518V1284H519.7V1284H521.4V1284H523.2V1284H524.9V1283H526.6V1282H528.4V1281H530.1V1281H531.8V1280H533.6V1279H535.3V1279H537V1278H538.7V1278H540.5V1278H542.2V1278H543.9V1278H545.7V1278H547.4V1278H549.1V1278H550.9V1279H552.6V1280H554.3V1281H556V1281H557.8V1282H559.5V1282H561.2V1282H563V1281H564.7V1281H566.4V1282H568.2V1283H569.9V1283H571.6V1283H573.3V1283H575.1V1282H576.8V1282H578.5V1282H580.3V1282H582V1282H583.7V1282H585.5V1282H587.2V1282H588.9V1283H590.6V1283H592.4V1283H594.1V1283H595.8V1283H597.6V1283H599.3V1283H601V1283H602.8V1284H604.5V1284H606.2V1284H607.9V1284H609.7V1283H611.4V1283H613.1V1283H614.9V1282H616.6V1279H618.3V1276H620.1V1271H621.8V1267H623.5V1267H625.2V1266H627V1266H628.7V1266H630.4V1266H632.2V1266H633.9V1266H635.6V1266H637.4V1265H639.1V1264H640.8V1264H642.5V1264H644.3V1264H646V1265H647.7V1266H649.5V1267H651.2V1268H652.9V1268H654.7V1268H656.4V1268H658.1V1268H659.8V1268H661.6V1267H663.3V1266H665V1265H666.8V1263H668.5V1263H670.2V1262H672V1262H673.7V1262H675.4V1261H677.1V1261H678.9V1260H680.6V1260H682.3V1259H684.1V1258H685.8V1258H687.5V1258H689.3V1258H691V1259H692.7V1259H694.4V1260H696.2V1260H697.9V1261H699.6V1262H701.4V1262H703.1V1263H704.8V1263H706.6V1264H708.3V1264H710V1264H711.7V1264H713.5V1264H715.2V1264H716.9V1264H718.7V1264H720.4V1264H722.1V1264H723.9V1265H725.6V1266H727.3V1266H729V1267H730.8V1267H732.5V1267H734.2V1267H736V1267H737.7V1267H739.4V1266H741.2V1266H742.9V1266H744.6V1265H746.3V1264H748.1V1263H749.8V1264H751.5V1264H753.3V1265H755V1266H756.7V1268H758.5V1269H760.2V1271H761.9V1271H763.6V1271H765.4V1271H767.1V1270H768.8V1270H770.6V1270H772.3V1271H774V1271H775.8V1272H777.5V1272H779.2V1272H780.9V1271H782.7V1270H784.4V1269H786.1V1268H787.9V1267H789.6V1266H791.3V1266H793.1V1265H794.8V1265H796.5V1265H798.2V1263H800V1261H801.7V1259H803.4V1257H805.2V1257H806.9V1257H808.6V1258H810.4V1260H812.1V1261H813.8V1262H815.5V1262H817.3V1262H819V1262H820.7V1262H822.5V1261H824.2V1261H825.9V1261H827.7V1260H829.4V1260H831.1V1260H832.8V1260H834.6V1259H836.3V1260H838V1260H839.8V1261H841.5V1262H843.2V1263H845V1264H846.7V1262H848.4V1261H850.1V1260H851.9V1260H853.6V1262H855.3V1267H857.1V1271H858.8V1276H860.5V1278H862.3V1279H864V1280H865.7V1281H867.4V1281H869.2V1282H870.9V1282H872.6V1282H874.4V1281H876.1V1279H877.8V1278H879.6V1276H881.3V1275H883V1274H884.7V1274H886.5V1272H888.2V1271H889.9V1270H891.7V1270H893.4V1269H895.1V1268H896.9V1267H898.6V1273H900.3V1276H902V1279H903.8V1282H905.5V1283H907.2V1284H909V1281H910.7V1278H912.4V1275H914.2V1268H915.9V1263H917.6V1258H919.3V1256H921.1V1256H922.8V1256H924.5V1256H926.3V1257H928V1258H929.7V1259H931.5V1260H933.2V1260H934.9V1260H936.6V1260H938.4V1260H940.1V1260H941.8V1260H943.6V1260H945.3V1260H947V1260H948.8V1259H950.5V1260H952.2V1261H953.9V1261H955.7V1261H957.4V1261H959.1V1259H960.9V1257H962.6V1254H964.3V1252H966.1V1247H967.8V1243H969.5V1236H971.2V1222H973V1190H974.7V1147H976.4V1081H978.2V1041H979.9V1026H981.6V995H983.4V954H985.1V931H986.8V929H988.5V928H990.3V927H992V927H993.7V927H995.5V927H997.2V928H998.9V928H1000.7V928H1002.4V930H1004.1V933H1005.8V934H1007.6V935H1009.3V936H1011V939H1012.8V939H1014.5V939H1016.2V937H1018V935H1019.7V937H1021.4V940H1023.1V945H1024.9V958H1026.6V968H1028.3V1011H1030.1V1044H1031.8V1069H1033.5V1097H1035.3V1132H1037V1158H1038.7V1163H1040.4V1168H1042.2V1173H1043.9V1179H1045.6V1186H1047.4V1194H1049.1V1199H1050.8V1203H1052.6V1207H1054.3V1209H1056V1212H1057.7V1214H1059.5V1216H1061.2V1218H1062.9V1217H1064.7V1215H1066.4V1213H1068.1V1213H1069.9V1212H1071.6V1211H1073.3V1209H1075V1208H1076.8V1206H1078.5V1205H1080.2V1203H1082V1202H1083.7V1202H1085.4V1201H1087.2V1201H1088.9V1199H1090.6V1198H1092.3V1198H1094.1V1197H1095.8V1195H1097.5V1190H1099.3V1181H1101V1162H1102.7V1135H1104.5V1101H1106.2V1029H1107.9V989H1109.6V968H1111.4V961H1113.1V960H1114.8V960H1116.6V960H1118.3V961H1120V962H1121.8V965H1123.5V969H1125.2V972H1126.9V977H1128.7V982H1130.4V987H1132.1V989H1133.9V991H1135.6V991H1137.3V991H1139.1V990H1140.8V989H1142.5V990H1144.2V991H1146V991H1147.7V992H1149.4V991H1151.2V990H1152.9V989H1154.6V989H1156.4V989H1158.1V989H1159.8V999H1161.5V1010H1163.3V1033H1165V1056H1166.7V1089H1168.5V1118H1170.2V1154H1171.9V1180H1173.7V1191H1175.4V1196H1177.1V1198H1178.8V1199H1180.6V1201H1182.3V1204H1184V1205H1185.8V1206H1187.5V1206H1189.2V1206H1191V1206H1192.7V1206H1194.4V1206H1196.1V1206H1197.9V1206H1199.6V1206H1201.3V1205H1203.1V1205H1204.8V1205H1206.5V1205H1208.3V1205H1210V1204H1211.7V1203H1213.4V1202H1215.2V1199H1216.9V1196H1218.6V1192H1220.4V1188H1222.1V1185H1223.8V1182H1225.6V1175H1227.3V1167H1229V1162H1230.7V1158H1232.5V1155H1234.2V1153H1235.9V1150H1237.7V1148H1239.4V1143H1241.1V1137H1242.9V1128H1244.6V1114H1246.3V1090H1248V1022H1249.8V997H1251.5V980H1253.2V962H1255V960H1256.7V963H1258.4V970H1260.2V977H1261.9V978H1263.6V977H1265.3V973H1267.1V971H1268.8V970H1270.5V969H1272.3V970H1274V971H1275.7V972H1277.5V973H1279.2V972H1280.9V972H1282.6V972H1284.4V971H1286.1V970H1287.8V970H1289.6V970H1291.3V971H1293V971H1294.8V971H1296.5V972H1298.2V974H1299.9V977H1301.7V980H1303.4V984H1305.1V991H1306.9V998H1308.6V1004H1310.3V1013H1312.1V1025H1313.8V1041H1315.5V1067H1317.2V1093H1319V1102H1320.7V1144H1322.4V1164H1324.2V1171H1325.9V1175H1327.6V1177H1329.4V1177H1331.1V1178H1332.8V1180H1334.5V1182H1336.3V1183H1338V1185H1339.7V1186H1341.5V1186H1343.2V1186H1344.9V1186H1346.7V1185H1348.4V1185H1350.1V1184H1351.8V1184H1353.6V1183H1355.3V1181H1357V1178H1358.8V1176H1360.5V1176H1362.2V1178H1364V1182H1365.7V1184H1367.4V1186H1369.1V1188H1370.9V1188H1372.6V1187H1374.3V1186H1376.1V1185H1377.8V1184H1379.5V1183H1381.3V1182H1383V1182H1384.7V1181H1386.4V1179H1388.2V1177H1389.9V1176H1391.6V1175H1393.4V1174H1395.1V1173H1396.8V1172H1398.6V1170H1400.3V1169H1402V1166H1403.7V1161H1405.5V1145H1407.2V1130H1408.9V1102H1410.7V1054H1412.4V1004H1414.1V978H1415.9V957H1417.6V954H1419.3V960H1421V976H1422.8V979H1424.5V982H1426.2V980H1428V978H1429.7V979H1431.4V979H1433.2V979H1434.9V978H1436.6V978H1438.3V976H1440.1V973H1441.8V969H1443.5V965H1445.3V962H1447V962H1448.7V963H1450.5V964H1452.2V965H1453.9V965H1455.6V966H1457.4V965H1459.1V965H1460.8V964H1462.6V962H1464.3V960H1466V956H1467.8V951H1469.5V948H1471.2V945H1472.9V944H1474.7V943H1476.4V944H1478.1V945H1479.9V949H1481.6V955H1483.3V961H1485.1V969H1486.8V985H1488.5V1011H1490.2V1030H1492V1053H1493.7V1083H1495.4V1100H1497.2V1130H1498.9V1146H1500.6V1159H1502.4V1171H1504.1V1178H1505.8V1183H1507.5V1187H1509.3V1194H1511V1201H1512.7V1207H1514.5V1212H1516.2V1217H1517.9V1221H1519.7V1223H1521.4V1224H1523.1V1224H1524.8V1224H1526.6V1224H1528.3V1224H1530V1224H1531.8V1225H1533.5V1226H1535.2V1226H1537V1226H1538.7V1225H1540.4V1224H1542.1V1222H1543.9V1221H1545.6V1219H1547.3V1218H1549.1V1217H1550.8V1216H1552.5V1214H1554.3V1212H1556V1209H1557.7V1200H1559.4V1183H1561.2V1157H1562.9V1136H1564.6V1105H1566.4V1060H1568.1V1030H1569.8V1007H1571.6V1003H1573.3V999H1575V996H1576.7V990H1578.5V984H1580.2V982H1581.9V982H1583.7V984H1585.4V987H1587.1V989H1588.9V989H1590.6V988H1592.3V981H1594V973H1595.8V965H1597.5V959H1599.2V956H1601V955H1602.7V955H1604.4V956H1606.2V958H1607.9V960H1609.6V963H1611.3V965H1613.1V967H1614.8V968H1616.5V969H1618.3V970H1620V971H1621.7V973H1623.5V975H1625.2V978H1626.9V983H1628.6V988H1630.4V995H1632.1V1002H1633.8V1010H1635.6V1031H1637.3V1052H1639V1083H1640.8V1112H1642.5V1137H1644.2V1160H1645.9V1168H1647.7V1174H1649.4V1180H1651.1V1185H1652.9V1196H1654.6V1198H1656.3V1200H1658.1V1202H1659.8V1203H1661.5V1204H1663.2V1203H1665V1203H1666.7V1202H1668.4V1201H1670.2V1201H1671.9V1200H1673.6V1200H1675.4V1200H1677.1V1200H1678.8V1200H1680.5V1200H1682.3V1199H1684V1197H1685.7V1196H1687.5V1194H1689.2V1193H1690.9V1192H1692.7V1191H1694.4V1191H1696.1V1190H1697.8V1189H1699.6V1188H1701.3V1186H1703V1186H1704.8V1186H1706.5V1186H1708.2V1186H1710V1186H1711.7V1186H1713.4V1186H1715.1V1178H1716.9V1145H1718.6V1131H1720.3V1088H1722.1V1044H1723.8V1028H1725.5V974H1727.3V961H1729V951H1730.7V950H1732.4V959H1734.2V963H1735.9V963H1737.6V963H1739.4V965H1741.1V966H1742.8V966H1744.6V969H1746.3V970H1748V971H1749.7V970H1751.5V967H1753.2V965H1754.9V961H1756.7V959H1758.4V958H1760.1V959H1761.9V962H1763.6V963H1765.3V964H1767V964H1768.8V963H1770.5V963H1772.2V963H1774V963H1775.7V963H1777.4V962H1779.2V960H1780.9V958H1782.6V957H1784.3V959H1786.1V964H1787.8V979H1789.5V981H1791.3V983H1793V992H1794.7V1015H1796.5V1034H1798.2V1055H1799.9V1066H1801.6V1079H1803.4V1099H1805.1V1115H1806.8V1132H1808.6V1138H1810.3V1142H1812V1143H1813.8V1143H1815.5V1143H1817.2V1143H1818.9V1143H1820.7V1144H1822.4V1143H1824.1V1141H1825.9V1144H1827.6V1150H1829.3V1152H1831.1V1154H1832.8V1156H1834.5V1160H1836.2V1164H1838V1170H1839.7V1174H1841.4V1176H1843.2V1177H1844.9V1175H1846.6V1171H1848.4V1165H1850.1V1163H1851.8V1162H1853.5V1162H1855.3V1164H1857V1166H1858.7V1168H1860.5V1173H1862.2V1174H1863.9V1174H1865.7V1174H1867.4V1174H1869.1V1173H1870.8V1173H1872.6V1173H1874.3V1173H1876V1173H1877.8V1173H1879.5V1173H1881.2V1173H1883V1173H1884.7V1173H1886.4V1176H1888.1V1178H1889.9V1179H1891.6V1181H1893.3V1182H1895.1V1182H1897" fill="none" stroke="#0072BD" stroke-width="1" shape-rendering="crispEdges"/>
<path d="M181.5 857.5H1897.5V1286.5H181.5ZM181.5 1286.5V1268.5M181.5 857.5V875.5M392.5 1286.5V1268.5M392.5 857.5V875.5M604.5 1286.5V1268.5M604.5 857.5V875.5M815.5 1286.5V1268.5M815.5 857.5V875.5M1026.5 1286.5V1268.5M1026.5 857.5V875.5M1237.5 1286.5V1268.5M1237.5 857.5V875.5M1448.5 1286.5V1268.5M1448.5 857.5V875.5M1660.5 1286.5V1268.5M1660.5 857.5V875.5M1871.5 1286.5V1268.5M1871.5 857.5V875.5M181.5 1277.5H199.5M1897.5 1277.5H1879.5M181.5 1172.5H199.5M1897.5 1172.5H1879.5M181.5 1067.5H199.5M1897.5 1067.5H1879.5M181.5 962.5H199.5M1897.5 962.5H1879.5M181.5 857.5H199.5M1897.5 857.5H1879.5" fill="none" stroke="#262626" stroke-width="1" shape-rendering="crispEdges"/>
<text x="181.5" y="1344" font-family="Liberation Sans, sans-serif" font-weight="normal" font-size="43" fill="#262626" text-anchor="middle">0</text>
<text x="392.5" y="1344" font-family="Liberation Sans, sans-serif" font-weight="normal" font-size="43" fill="#262626" text-anchor="middle">2</text>
<text x="604.5" y="1344" font-family="Liberation Sans, sans-serif" font-weight="normal" font-size="43" fill="#262626" text-anchor="middle">4</text>
<text x="815.5" y="1344" font-family="Liberation Sans, sans-serif" font-weight="normal" font-size="43" fill="#262626" text-anchor="middle">6</text>
<text x="1026.5" y="1344" font-family="Liberation Sans, sans-serif" font-weight="normal" font-size="43" fill="#262626" text-anchor="middle">8</text>
<text x="1237.5" y="1344" font-family="Liberation Sans, sans-serif" font-weight="normal" font-size="43" fill="#262626" text-anchor="middle"><tspan font-family="IPAGothic, sans-serif" dx="1.29" dy="1.93">1</tspan><tspan dx="1.12" dy="-1.93">0</tspan></text>
<text x="1448.5" y="1344" font-family="Liberation Sans, sans-serif" font-weight="normal" font-size="43" fill="#262626" text-anchor="middle"><tspan font-family="IPAGothic, sans-serif" dx="1.29" dy="1.93">1</tspan><tspan dx="1.12" dy="-1.93">2</tspan></text>
<text x="1660.5" y="1344" font-family="Liberation Sans, sans-serif" font-weight="normal" font-size="43" fill="#262626" text-anchor="middle"><tspan font-family="IPAGothic, sans-serif" dx="1.29" dy="1.93">1</tspan><tspan dx="1.12" dy="-1.93">4</tspan></text>
<text x="1871.5" y="1344" font-family="Liberation Sans, sans-serif" font-weight="normal" font-size="43" fill="#262626" text-anchor="middle"><tspan font-family="IPAGothic, sans-serif" dx="1.29" dy="1.93">1</tspan><tspan dx="1.12" dy="-1.93">6</tspan></text>
<text x="168.7" y="1294.8" font-family="Liberation Sans, sans-serif" font-weight="normal" font-size="43" fill="#262626" text-anchor="end">0</text>
<text x="168.7" y="1189.8" font-family="Liberation Sans, sans-serif" font-weight="normal" font-size="43" fill="#262626" text-anchor="end">20</text>
<text x="168.7" y="1084.8" font-family="Liberation Sans, sans-serif" font-weight="normal" font-size="43" fill="#262626" text-anchor="end">40</text>
<text x="168.7" y="979.8" font-family="Liberation Sans, sans-serif" font-weight="normal" font-size="43" fill="#262626" text-anchor="end">60</text>
<text x="168.7" y="874.8" font-family="Liberation Sans, sans-serif" font-weight="normal" font-size="43" fill="#262626" text-anchor="end">80</text>
<text x="1039.7" y="1404.5" font-family="Liberation Sans, sans-serif" font-weight="normal" font-size="46.4" fill="#262626" text-anchor="middle">time (s)</text>
<g transform="translate(101.8 1074.1) rotate(-90) scale(1 1.043)"><text x="0" y="0" font-family="Liberation Sans, sans-serif" font-weight="normal" font-size="46.4" fill="#262626" text-anchor="middle">Angle (degree)</text></g>
<clipPath id="cc"><rect x="181" y="1608" width="1715" height="328"/></clipPath>
<path d="M181.5 1608.5H1895.5V1932.5H181.5ZM181.5 1932.5V1914M181.5 1608.5V1627M392.5 1932.5V1914M392.5 1608.5V1627M602.5 1932.5V1914M602.5 1608.5V1627M813.5 1932.5V1914M813.5 1608.5V1627M1024.5 1932.5V1914M1024.5 1608.5V1627M1234.5 1932.5V1914M1234.5 1608.5V1627M1445.5 1932.5V1914M1445.5 1608.5V1627M1655.5 1932.5V1914M1655.5 1608.5V1627M1866.5 1932.5V1914M1866.5 1608.5V1627M181.5 1638.5H200M1895.5 1638.5H1877" fill="none" stroke="#262626" stroke-width="1" shape-rendering="crispEdges"/>
<g clip-path="url(#cc)"><path d="M181.5 1932.5H976.5V1839.4H977.5V1638.5H978.5V1794.6H979.5V1932.5H984.5V1812.3H985.5V1638.5H995.5V1806.9H996.5V1932.5H1033.5V1759.6H1034.5V1638.5H1040.5V1696.1H1041.5V1932.5H1107.5V1885.7H1108.5V1638.5H1124.5V1855H1125.5V1932.5H1158.5V1835H1159.5V1638.5H1163.5V1730.8H1164.5V1932.5H1166.5V1683.5H1167.5V1638.5H1172.5V1779.4H1173.5V1932.5H1173.5V1716.3H1174.5V1638.5H1175.5V1780.6H1176.5V1932.5H1176.5V1756.9H1177.5V1638.5H1177.5V1713.6H1178.5V1932.5H1251.5V1757.7H1252.5V1638.5H1257.5V1861.2H1258.5V1932.5H1258.5V1780.7H1259.5V1638.5H1274.5V1835.1H1275.5V1932.5H1310.5V1750.2H1311.5V1638.5H1312.5V1695.8H1313.5V1932.5H1318.5V1732.4H1319.5V1638.5H1322.5V1804.2H1323.5V1932.5H1410.5V1826.4H1411.5V1638.5H1413.5V1689H1414.5V1932.5H1420.5V1710.3H1421.5V1638.5H1433.5V1779.9H1434.5V1932.5H1486.5V1740.5H1487.5V1638.5H1488.5V1863.5H1489.5V1932.5H1489.5V1741.4H1490.5V1638.5H1490.5V1872.2H1491.5V1932.5H1491.5V1807.1H1492.5V1638.5H1493.5V1847.4H1494.5V1932.5H1494.5V1796.9H1495.5V1638.5H1496.5V1875.1H1497.5V1932.5H1497.5V1707.5H1498.5V1638.5H1499.5V1702.7H1500.5V1932.5H1500.5V1860.4H1501.5V1638.5H1502.5V1727.3H1503.5V1932.5H1503.5V1689.7H1504.5V1638.5H1504.5V1772.4H1505.5V1932.5H1513.5V1759.4H1514.5V1638.5H1516.5V1744.6H1517.5V1932.5H1566.5V1784H1567.5V1638.5H1568.5V1762H1569.5V1932.5H1569.5V1816.2H1570.5V1638.5H1571.5V1803H1572.5V1932.5H1572.5V1768.2H1573.5V1638.5H1573.5V1868.7H1574.5V1932.5H1577.5V1748H1578.5V1638.5H1579.5V1873.8H1580.5V1932.5H1580.5V1712.2H1581.5V1638.5H1582.5V1886.5H1583.5V1932.5H1583.5V1750.3H1584.5V1638.5H1585.5V1716.2H1586.5V1932.5H1586.5V1711.3H1587.5V1638.5H1588.5V1881.1H1589.5V1932.5H1589.5V1702.2H1590.5V1638.5H1591.5V1799.7H1592.5V1932.5H1637.5V1741.5H1638.5V1638.5H1638.5V1726H1639.5V1932.5H1644.5V1717.3H1645.5V1638.5H1645.5V1800.6H1646.5V1932.5H1646.5V1829.8H1647.5V1638.5H1648.5V1695.7H1649.5V1932.5H1649.5V1712.7H1650.5V1638.5H1655.5V1886.3H1656.5V1932.5H1726.5V1870.2H1727.5V1638.5H1739.5V1847.4H1740.5V1932.5H1741.5V1803.9H1742.5V1638.5H1742.5V1713.6H1743.5V1932.5H1744.5V1827.9H1745.5V1638.5H1747.5V1840.8H1748.5V1932.5H1795.5V1708.8H1796.5V1638.5H1797.5V1691.7H1798.5V1932.5H1798.5V1761.9H1799.5V1638.5H1800.5V1691.8H1801.5V1932.5H1801.5V1740.5H1802.5V1638.5H1803.5V1750.7H1804.5V1932.5H1804.5V1707.1H1805.5V1638.5H1806.5V1884.4H1807.5V1932.5H1896" fill="none" stroke="#FF0000" stroke-width="3" stroke-linejoin="miter" shape-rendering="crispEdges"/>
<path d="M181.5 1932.5H967.5V1839.4H968.5V1638.5H969.5V1794.6H970.5V1932.5H971.5V1812.3H972.5V1638.5H988.5V1806.9H989.5V1932.5H1022.5V1759.6H1023.5V1638.5H1048.5V1696.1H1049.5V1932.5H1099.5V1885.7H1100.5V1638.5H1114.5V1855H1115.5V1932.5H1127.5V1835H1128.5V1638.5H1130.5V1730.8H1131.5V1932.5H1160.5V1683.5H1161.5V1638.5H1181.5V1779.4H1182.5V1932.5H1224.5V1716.3H1225.5V1638.5H1226.5V1780.6H1227.5V1932.5H1227.5V1756.9H1228.5V1638.5H1229.5V1713.6H1230.5V1932.5H1230.5V1757.7H1231.5V1638.5H1232.5V1861.2H1233.5V1932.5H1241.5V1780.7H1242.5V1638.5H1256.5V1835.1H1257.5V1932.5H1257.5V1750.2H1258.5V1638.5H1259.5V1695.8H1260.5V1932.5H1260.5V1732.4H1261.5V1638.5H1262.5V1804.2H1263.5V1932.5H1305.5V1826.4H1306.5V1638.5H1326.5V1689H1327.5V1932.5H1404.5V1710.3H1405.5V1638.5H1418.5V1779.9H1419.5V1932.5H1419.5V1740.5H1420.5V1638.5H1420.5V1863.5H1421.5V1932.5H1421.5V1741.4H1422.5V1638.5H1423.5V1872.2H1424.5V1932.5H1481.5V1807.1H1482.5V1638.5H1505.5V1847.4H1506.5V1932.5H1509.5V1796.9H1510.5V1638.5H1515.5V1875.1H1516.5V1932.5H1555.5V1707.5H1556.5V1638.5H1576.5V1702.7H1577.5V1932.5H1593.5V1860.4H1594.5V1638.5H1597.5V1727.3H1598.5V1932.5H1628.5V1689.7H1629.5V1638.5H1654.5V1772.4H1655.5V1932.5H1714.5V1759.4H1715.5V1638.5H1729.5V1744.6H1730.5V1932.5H1786.5V1784H1787.5V1638.5H1809.5V1762H1810.5V1932.5H1896" fill="none" stroke="#0000FF" stroke-width="3" stroke-linejoin="miter" shape-rendering="crispEdges"/></g>
<text x="181.5" y="2001.5" font-family="Liberation Sans, sans-serif" font-weight="normal" font-size="50" fill="#262626" text-anchor="middle">0</text>
<text x="392.5" y="2001.5" font-family="Liberation Sans, sans-serif" font-weight="normal" font-size="50" fill="#262626" text-anchor="middle">2</text>
<text x="602.5" y="2001.5" font-family="Liberation Sans, sans-serif" font-weight="normal" font-size="50" fill="#262626" text-anchor="middle">4</text>
<text x="813.5" y="2001.5" font-family="Liberation Sans, sans-serif" font-weight="normal" font-size="50" fill="#262626" text-anchor="middle">6</text>
<text x="1024.5" y="2001.5" font-family="Liberation Sans, sans-serif" font-weight="normal" font-size="50" fill="#262626" text-anchor="middle">8</text>
<text x="1234.5" y="2001.5" font-family="Liberation Sans, sans-serif" font-weight="normal" font-size="50" fill="#262626" text-anchor="middle"><tspan font-family="IPAGothic, sans-serif" dx="1.50" dy="2.25">1</tspan><tspan dx="1.30" dy="-2.25">0</tspan></text>
<text x="1445.5" y="2001.5" font-family="Liberation Sans, sans-serif" font-weight="normal" font-size="50" fill="#262626" text-anchor="middle"><tspan font-family="IPAGothic, sans-serif" dx="1.50" dy="2.25">1</tspan><tspan dx="1.30" dy="-2.25">2</tspan></text>
<text x="1655.5" y="2001.5" font-family="Liberation Sans, sans-serif" font-weight="normal" font-size="50" fill="#262626" text-anchor="middle"><tspan font-family="IPAGothic, sans-serif" dx="1.50" dy="2.25">1</tspan><tspan dx="1.30" dy="-2.25">4</tspan></text>
<text x="1866.5" y="2001.5" font-family="Liberation Sans, sans-serif" font-weight="normal" font-size="50" fill="#262626" text-anchor="middle"><tspan font-family="IPAGothic, sans-serif" dx="1.50" dy="2.25">1</tspan><tspan dx="1.30" dy="-2.25">6</tspan></text>
<text x="163.6" y="1659" font-family="Liberation Sans, sans-serif" font-weight="normal" font-size="50" fill="#262626" text-anchor="end"><tspan font-family="IPAGothic, sans-serif" dx="1.50" dy="2.25">1</tspan></text>
<text x="165.8" y="1953.8" font-family="Liberation Sans, sans-serif" font-weight="normal" font-size="50" fill="#262626" text-anchor="end">0</text>
<text x="1039.2" y="2072" font-family="Liberation Sans, sans-serif" font-weight="normal" font-size="55.8" fill="#262626" text-anchor="middle">time(s)</text>
<g transform="translate(117 1771) rotate(-90) scale(1 1.06)"><text x="0" y="0" font-family="Liberation Sans, sans-serif" font-weight="normal" font-size="56.4" fill="#262626" text-anchor="middle">Moving state</text></g>
<rect x="202.5" y="1620.5" width="537" height="124" fill="#fff" stroke="#262626" stroke-width="1" shape-rendering="crispEdges"/>
<rect x="209" y="1651" width="78" height="4" fill="#FF0000" shape-rendering="crispEdges"/>
<rect x="209" y="1710" width="78" height="3" fill="#0000FF" shape-rendering="crispEdges"/>
<text x="291.3" y="1672" font-family="Liberation Sans, sans-serif" font-weight="normal" font-size="45.8" fill="#000" text-anchor="start">predicted</text>
<text x="291.3" y="1730.2" font-family="Liberation Sans, sans-serif" font-weight="normal" font-size="45.8" fill="#000" text-anchor="start">leap motion controller</text>
<path d="M181.5 2575.5L297.6 2575.5L298.6 2305.5L299.7 2305.5L300.7 2575.5L377.7 2575.5L378.8 2305.5L379.8 2575.5L380.9 2305.5L383 2305.5L384.1 2575.5L385.1 2305.5L386.2 2305.5L387.2 2575.5L388.3 2305.5L389.3 2575.5L395.7 2575.5L396.7 2305.5L397.8 2575.5L405.2 2575.5L406.2 2305.5L407.3 2575.5L425.2 2575.5L426.3 2305.5L427.3 2305.5L428.4 2575.5L429.4 2305.5L430.5 2305.5L431.5 2575.5L432.6 2305.5L433.6 2575.5L434.7 2305.5L435.8 2575.5L436.8 2305.5L437.9 2575.5L438.9 2305.5L440 2575.5L441 2305.5L442.1 2305.5L443.1 2575.5L451.6 2575.5L452.6 2305.5L455.8 2305.5L456.9 2575.5L469.5 2575.5L470.6 2305.5L471.6 2575.5L491.7 2575.5L492.7 2305.5L493.8 2305.5L494.8 2575.5L550.8 2575.5L551.8 2305.5L552.9 2575.5L629.9 2575.5L630.9 2305.5L632 2575.5L704.8 2575.5L705.8 2305.5L706.9 2575.5L787.1 2575.5L788.1 2305.5L790.2 2305.5L791.3 2575.5L792.3 2305.5L793.4 2305.5L794.5 2575.5L795.5 2305.5L798.7 2305.5L799.7 2575.5L808.2 2575.5L809.2 2305.5L810.3 2575.5L819.8 2575.5L820.8 2305.5L821.9 2305.5L822.9 2575.5L827.2 2575.5L828.2 2305.5L829.3 2575.5L844 2575.5L845.1 2305.5L846.1 2575.5L848.3 2575.5L849.3 2305.5L850.4 2575.5L857.8 2575.5L858.8 2305.5L859.9 2575.5L864.1 2575.5L865.1 2305.5L866.2 2575.5L872.5 2575.5L873.6 2305.5L874.6 2575.5L889.4 2575.5L890.5 2305.5L891.5 2575.5L947.4 2575.5L948.5 2305.5L949.5 2575.5L950.6 2575.5L951.6 2305.5L956.9 2305.5L958 2575.5L960.1 2575.5L961.1 2305.5L962.2 2575.5L963.3 2305.5L964.3 2575.5L965.4 2305.5L966.4 2575.5L967.5 2305.5L968.5 2575.5L969.6 2305.5L975.9 2305.5L977 2575.5L978 2575.5L979.1 2305.5L987.5 2305.5L988.6 2575.5L989.6 2305.5L990.7 2305.5L991.7 2575.5L992.8 2305.5L1002.3 2305.5L1003.3 2575.5L1004.4 2305.5L1005.5 2305.5L1006.5 2575.5L1007.6 2305.5L1008.6 2305.5L1009.7 2575.5L1010.7 2575.5L1011.8 2305.5L1012.8 2575.5L1013.9 2305.5L1014.9 2305.5L1016 2575.5L1017.1 2305.5L1056.1 2305.5L1057.2 2575.5L1068.8 2575.5L1069.8 2305.5L1070.9 2305.5L1071.9 2575.5L1073 2305.5L1074 2575.5L1075.1 2305.5L1076.1 2575.5L1077.2 2575.5L1078.2 2305.5L1080.4 2305.5L1081.4 2575.5L1082.5 2575.5L1083.5 2305.5L1084.6 2575.5L1085.6 2305.5L1086.7 2575.5L1087.7 2305.5L1088.8 2305.5L1089.9 2575.5L1093 2575.5L1094.1 2305.5L1131 2305.5L1132.1 2575.5L1135.2 2575.5L1136.3 2305.5L1137.3 2305.5L1138.4 2575.5L1139.4 2305.5L1140.5 2575.5L1141.5 2575.5L1142.6 2305.5L1143.7 2305.5L1144.7 2575.5L1145.8 2305.5L1146.8 2575.5L1147.9 2305.5L1148.9 2575.5L1150 2305.5L1171.1 2305.5L1172.1 2575.5L1173.2 2305.5L1174.3 2305.5L1175.3 2575.5L1176.4 2305.5L1177.4 2575.5L1178.5 2305.5L1179.5 2305.5L1180.6 2575.5L1181.6 2305.5L1182.7 2575.5L1183.8 2575.5L1184.8 2305.5L1185.9 2575.5L1186.9 2575.5L1188 2305.5L1190.1 2305.5L1191.1 2575.5L1192.2 2575.5L1193.2 2305.5L1194.3 2575.5L1195.4 2305.5L1196.4 2305.5L1197.5 2575.5L1198.5 2305.5L1200.6 2305.5L1201.7 2575.5L1210.1 2575.5L1211.2 2305.5L1212.2 2575.5L1213.3 2305.5L1214.3 2575.5L1215.4 2305.5L1216.5 2305.5L1217.5 2575.5L1218.6 2575.5L1219.6 2305.5L1220.7 2575.5L1222.8 2575.5L1223.8 2305.5L1224.9 2575.5L1226 2305.5L1227 2575.5L1228.1 2305.5L1229.1 2575.5L1230.2 2575.5L1231.2 2305.5L1232.3 2575.5L1233.3 2305.5L1234.4 2575.5L1235.4 2305.5L1236.5 2575.5L1237.6 2575.5L1238.6 2305.5L1275.5 2305.5L1276.6 2575.5L1279.8 2575.5L1280.8 2305.5L1288.2 2305.5L1289.2 2575.5L1290.3 2305.5L1291.4 2575.5L1292.4 2305.5L1293.5 2575.5L1294.5 2305.5L1295.6 2575.5L1296.6 2575.5L1297.7 2305.5L1320.9 2305.5L1322 2575.5L1323 2305.5L1324.1 2305.5L1325.1 2575.5L1326.2 2575.5L1327.2 2305.5L1336.7 2305.5L1337.8 2575.5L1338.8 2575.5L1339.9 2305.5L1352.5 2305.5L1353.6 2575.5L1354.7 2305.5L1355.7 2575.5L1357.8 2575.5L1358.9 2305.5L1359.9 2575.5L1361 2305.5L1362 2305.5L1363.1 2575.5L1364.2 2575.5L1365.2 2305.5L1366.3 2575.5L1367.3 2305.5L1368.4 2575.5L1380 2575.5L1381 2305.5L1382.1 2575.5L1383.1 2305.5L1384.2 2575.5L1390.5 2575.5L1391.6 2305.5L1392.6 2305.5L1393.7 2575.5L1394.8 2575.5L1395.8 2305.5L1396.9 2305.5L1397.9 2575.5L1399 2305.5L1400 2575.5L1401.1 2305.5L1402.1 2575.5L1403.2 2305.5L1438 2305.5L1439.1 2575.5L1440.1 2305.5L1441.2 2575.5L1442.2 2305.5L1443.3 2575.5L1444.3 2575.5L1445.4 2305.5L1446.4 2575.5L1447.5 2305.5L1448.6 2575.5L1449.6 2305.5L1450.7 2575.5L1451.7 2305.5L1453.8 2305.5L1454.9 2575.5L1455.9 2575.5L1457 2305.5L1458 2575.5L1459.1 2305.5L1460.2 2575.5L1461.2 2305.5L1463.3 2305.5L1464.4 2575.5L1465.4 2305.5L1466.5 2305.5L1467.5 2575.5L1468.6 2305.5L1469.7 2575.5L1470.7 2305.5L1471.8 2575.5L1472.8 2305.5L1473.9 2305.5L1474.9 2575.5L1476 2305.5L1496 2305.5L1497.1 2575.5L1498.1 2575.5L1499.2 2305.5L1514 2305.5L1515 2575.5L1516.1 2575.5L1517.1 2305.5L1518.2 2575.5L1519.2 2575.5L1520.3 2305.5L1521.3 2575.5L1522.4 2305.5L1523.5 2305.5L1524.5 2575.5L1525.6 2575.5L1526.6 2305.5L1527.7 2575.5L1528.7 2305.5L1529.8 2305.5L1530.8 2575.5L1531.9 2305.5L1533 2575.5L1534 2305.5L1535.1 2575.5L1536.1 2305.5L1537.2 2575.5L1538.2 2305.5L1539.3 2575.5L1540.3 2305.5L1542.4 2305.5L1543.5 2575.5L1544.6 2305.5L1545.6 2305.5L1546.7 2575.5L1549.8 2575.5L1550.9 2305.5L1573 2305.5L1574.1 2575.5L1575.2 2575.5L1576.2 2305.5L1596.3 2305.5L1597.3 2575.5L1598.4 2305.5L1599.4 2575.5L1600.5 2305.5L1601.5 2575.5L1602.6 2305.5L1603.6 2305.5L1604.7 2575.5L1605.8 2305.5L1606.8 2575.5L1607.9 2305.5L1610 2305.5L1611 2575.5L1612.1 2305.5L1613.1 2305.5L1614.2 2575.5L1615.2 2305.5L1616.3 2575.5L1617.4 2305.5L1618.4 2575.5L1619.5 2575.5L1620.5 2305.5L1621.6 2575.5L1622.6 2305.5L1660.6 2305.5L1661.7 2575.5L1662.7 2575.5L1663.8 2305.5L1664.8 2575.5L1665.9 2575.5L1666.9 2305.5L1668 2575.5L1669 2305.5L1670.1 2575.5L1671.2 2305.5L1672.2 2575.5L1674.3 2575.5L1675.4 2305.5L1676.4 2575.5L1677.5 2305.5L1678.5 2575.5L1679.6 2575.5L1680.7 2305.5L1681.7 2575.5L1682.8 2305.5L1683.8 2575.5L1695.4 2575.5L1696.5 2305.5L1697.5 2575.5L1707 2575.5L1708.1 2305.5L1710.2 2305.5L1711.2 2575.5L1712.3 2305.5L1735.5 2305.5L1736.6 2575.5L1737.6 2575.5L1738.7 2305.5L1745 2305.5L1746.1 2575.5L1747.1 2305.5L1748.2 2575.5L1749.2 2305.5L1761.9 2305.5L1762.9 2575.5L1764 2305.5L1765.1 2575.5L1766.1 2305.5L1767.2 2575.5L1768.2 2305.5L1769.3 2575.5L1770.3 2305.5L1771.4 2575.5L1772.4 2305.5L1774.5 2305.5L1775.6 2575.5L1776.7 2305.5L1777.7 2575.5L1778.8 2305.5L1779.8 2575.5L1780.9 2575.5L1781.9 2305.5L1783 2575.5L1784 2305.5L1785.1 2575.5L1786.2 2305.5L1803 2305.5L1804.1 2575.5L1805.1 2575.5L1806.2 2305.5L1808.3 2305.5L1809.4 2575.5L1810.4 2305.5L1811.5 2305.5L1812.5 2575.5L1814.6 2575.5L1815.7 2305.5L1816.8 2575.5L1818.9 2575.5L1819.9 2305.5L1822 2305.5L1823.1 2575.5L1824.1 2575.5L1825.2 2305.5L1826.2 2575.5L1827.3 2575.5L1828.4 2305.5L1830.5 2305.5L1831.5 2575.5L1832.6 2575.5L1833.6 2305.5L1834.7 2305.5L1835.7 2575.5L1836.8 2305.5L1838.9 2305.5L1840 2575.5L1841 2305.5L1843.1 2305.5L1844.2 2575.5L1847.3 2575.5L1848.4 2305.5L1849.5 2575.5L1850.5 2305.5L1851.6 2575.5L1852.6 2305.5L1853.7 2575.5L1854.7 2305.5L1855.8 2575.5L1861.1 2575.5L1862.1 2305.5L1863.2 2305.5L1864.2 2575.5L1865.3 2305.5L1866.3 2305.5L1867.4 2575.5L1868.4 2305.5L1869.5 2575.5L1870.6 2305.5L1871.6 2575.5L1872.7 2305.5L1873.7 2575.5L1879 2575.5L1880 2305.5L1881.1 2575.5L1882.2 2305.5L1883.2 2305.5L1884.3 2575.5L1885.3 2305.5L1886.4 2575.5L1894.8 2575.5L1895 2575.5" fill="none" stroke="#0072BD" stroke-width="1" shape-rendering="crispEdges"/>
<path d="M181.5 2278.5H1895.5V2602.5H181.5ZM181.5 2602.5V2584M181.5 2278.5V2297M392.5 2602.5V2584M392.5 2278.5V2297M603.5 2602.5V2584M603.5 2278.5V2297M814.5 2602.5V2584M814.5 2278.5V2297M1025.5 2602.5V2584M1025.5 2278.5V2297M1236.5 2602.5V2584M1236.5 2278.5V2297M1447.5 2602.5V2584M1447.5 2278.5V2297M1658.5 2602.5V2584M1658.5 2278.5V2297M1869.5 2602.5V2584M1869.5 2278.5V2297M181.5 2305.5H200M1895.5 2305.5H1877M181.5 2575.5H200M1895.5 2575.5H1877" fill="none" stroke="#262626" stroke-width="1" shape-rendering="crispEdges"/>
<text x="181.5" y="2670.5" font-family="Liberation Sans, sans-serif" font-weight="normal" font-size="50" fill="#262626" text-anchor="middle">0</text>
<text x="392.5" y="2670.5" font-family="Liberation Sans, sans-serif" font-weight="normal" font-size="50" fill="#262626" text-anchor="middle">2</text>
<text x="603.5" y="2670.5" font-family="Liberation Sans, sans-serif" font-weight="normal" font-size="50" fill="#262626" text-anchor="middle">4</text>
<text x="814.5" y="2670.5" font-family="Liberation Sans, sans-serif" font-weight="normal" font-size="50" fill="#262626" text-anchor="middle">6</text>
<text x="1025.5" y="2670.5" font-family="Liberation Sans, sans-serif" font-weight="normal" font-size="50" fill="#262626" text-anchor="middle">8</text>
<text x="1236.5" y="2670.5" font-family="Liberation Sans, sans-serif" font-weight="normal" font-size="50" fill="#262626" text-anchor="middle"><tspan font-family="IPAGothic, sans-serif" dx="1.50" dy="2.25">1</tspan><tspan dx="1.30" dy="-2.25">0</tspan></text>
<text x="1447.5" y="2670.5" font-family="Liberation Sans, sans-serif" font-weight="normal" font-size="50" fill="#262626" text-anchor="middle"><tspan font-family="IPAGothic, sans-serif" dx="1.50" dy="2.25">1</tspan><tspan dx="1.30" dy="-2.25">2</tspan></text>
<text x="1658.5" y="2670.5" font-family="Liberation Sans, sans-serif" font-weight="normal" font-size="50" fill="#262626" text-anchor="middle"><tspan font-family="IPAGothic, sans-serif" dx="1.50" dy="2.25">1</tspan><tspan dx="1.30" dy="-2.25">4</tspan></text>
<text x="1869.5" y="2670.5" font-family="Liberation Sans, sans-serif" font-weight="normal" font-size="50" fill="#262626" text-anchor="middle"><tspan font-family="IPAGothic, sans-serif" dx="1.50" dy="2.25">1</tspan><tspan dx="1.30" dy="-2.25">6</tspan></text>
<text x="163.6" y="2325.8" font-family="Liberation Sans, sans-serif" font-weight="normal" font-size="50" fill="#262626" text-anchor="end"><tspan font-family="IPAGothic, sans-serif" dx="1.50" dy="2.25">1</tspan></text>
<text x="165.8" y="2596" font-family="Liberation Sans, sans-serif" font-weight="normal" font-size="50" fill="#262626" text-anchor="end">0</text>
<text x="1039.2" y="2741.3" font-family="Liberation Sans, sans-serif" font-weight="normal" font-size="55.8" fill="#262626" text-anchor="middle">time(s)</text>
<g transform="translate(117.2 2441) rotate(-90) scale(1 1.06)"><text x="0" y="0" font-family="Liberation Sans, sans-serif" font-weight="normal" font-size="56.4" fill="#262626" text-anchor="middle">Moving state</text></g>
<g transform="translate(999.5 781.7) scale(0.97 1)"><text x="0" y="0" font-family="Liberation Serif, serif" font-weight="bold" font-size="77.5" fill="#000" text-anchor="middle"><tspan font-weight="normal">(</tspan>a<tspan font-weight="normal">)</tspan></text></g>
<g transform="translate(999.5 1539.8) scale(0.97 1)"><text x="0" y="0" font-family="Liberation Serif, serif" font-weight="bold" font-size="77.5" fill="#000" text-anchor="middle"><tspan font-weight="normal">(</tspan>b<tspan font-weight="normal">)</tspan></text></g>
<g transform="translate(999.5 2208.5) scale(0.97 1)"><text x="0" y="0" font-family="Liberation Serif, serif" font-weight="bold" font-size="77.5" fill="#000" text-anchor="middle"><tspan font-weight="normal">(</tspan>c<tspan font-weight="normal">)</tspan></text></g>
<g transform="translate(999.5 2879.2) scale(0.97 1)"><text x="0" y="0" font-family="Liberation Serif, serif" font-weight="bold" font-size="77.5" fill="#000" text-anchor="middle"><tspan font-weight="normal">(</tspan>d<tspan font-weight="normal">)</tspan></text></g>
</svg></body></html>
